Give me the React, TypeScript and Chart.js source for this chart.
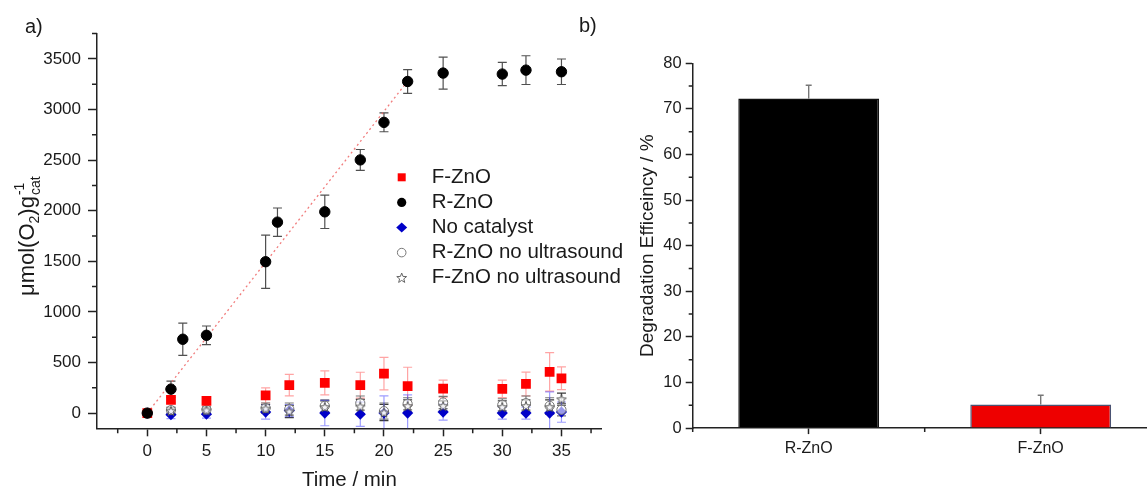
import React, { useEffect, useRef } from 'react';
import { Chart, registerables } from 'chart.js';

Chart.register(...registerables);

const FONT = '"Liberation Sans", Arial, Helvetica, sans-serif';

// ---------- Panel a) data ----------
const rznoTime = [0, 2, 3, 5, 10, 11, 15, 18, 20, 22, 25, 30, 32, 35];
const rznoO2 = [0, 237, 730, 769, 1496, 1887, 1989, 2502, 2873, 3277, 3360, 3350, 3389, 3373];
const rznoErr = [20, 80, 160, 92, 263, 140, 165, 103, 93, 117, 158, 115, 142, 126];

const sampleTime = [0, 2, 5, 10, 12, 15, 18, 20, 22, 25, 30, 32, 34, 35];
const fznoO2 = [0, 131, 121, 175, 276, 299, 276, 390, 266, 242, 240, 288, 408, 344];
const fznoErr = [0, 25, 25, 75, 106, 118, 128, 160, 187, 85, 87, 118, 190, 112];
const noCatO2 = [0, -15, -10, 10, 25, 0, -10, 0, 0, 10, 0, 0, 0, 10];
const noCatErr = [10, 40, 40, 70, 60, 125, 120, 170, 180, 80, 60, 60, 210, 100];
const rznoNoUsO2 = [0, 30, 35, 50, 40, 72, 99, 20, 92, 105, 82, 99, 72, 33];
const rznoNoUsErr = [10, 30, 30, 50, 60, 60, 70, 80, 60, 60, 60, 70, 80, 60];
const fznoNoUsO2 = [0, 22, 28, 45, 16, 60, 65, 6, 70, 70, 60, 70, 60, 138];
const fznoNoUsErr = [10, 30, 30, 40, 60, 60, 70, 80, 60, 50, 60, 60, 70, 60];

const fitTime = [0, 22];
const fitO2 = [0, 3280];

const xMajorTicks = [0, 5, 10, 15, 20, 25, 30, 35];
const xMinorTicks = [-2.5, 2.5, 7.5, 12.5, 17.5, 22.5, 27.5, 32.5, 37.5];
const yMajorTicks = [0, 500, 1000, 1500, 2000, 2500, 3000, 3500];
const yMinorTicks = [250, 750, 1250, 1750, 2250, 2750, 3250, 3750];

const legendNames = ['F-ZnO', 'R-ZnO', 'No catalyst', 'R-ZnO no ultrasound', 'F-ZnO no ultrasound'];

// ---------- Panel b) data ----------
const barCategories = ['R-ZnO', 'F-ZnO'];
const barValues = [72.3, 5.2];
const barErrors = [2.9, 2.0];
const barYTicks = [0, 10, 20, 30, 40, 50, 60, 70, 80];
const barYMinor = [5, 15, 25, 35, 45, 55, 65, 75];

const H = 489;
const LEFT_W = 650;
const RIGHT_X = 560;
const RIGHT_W = 610;

function drawStar(ctx: CanvasRenderingContext2D, x: number, y: number, R: number, r: number, fill: string, stroke: string, lw: number) {
  ctx.beginPath();
  for (let k = 0; k < 10; k++) {
    const ang = -Math.PI / 2 + (k * Math.PI) / 5;
    const rad = k % 2 === 0 ? R : r;
    const px = x + rad * Math.cos(ang);
    const py = y + rad * Math.sin(ang);
    if (k === 0) ctx.moveTo(px, py);
    else ctx.lineTo(px, py);
  }
  ctx.closePath();
  ctx.fillStyle = fill;
  ctx.fill();
  ctx.strokeStyle = stroke;
  ctx.lineWidth = lw;
  ctx.stroke();
}

function makeStarImage(R: number) {
  const c = document.createElement('canvas');
  const s = Math.ceil(R * 2 + 4);
  c.width = s;
  c.height = s;
  const ctx = c.getContext('2d')!;
  drawStar(ctx, s / 2, s / 2 + 0.5, R, R * 0.42, 'rgba(255,255,255,0.85)', '#555', 1);
  return c;
}

const toXY = (xs: number[], ys: number[]) => xs.map((x, i) => ({ x, y: ys[i] }));

const errorBarPlugin = {
  id: 'errorBars',
  beforeDatasetsDraw(chart: any) {
    const { ctx, chartArea } = chart;
    const ys = chart.scales.y;
    ctx.save();
    ctx.beginPath();
    ctx.rect(chartArea.left, chartArea.top - 20, chartArea.right - chartArea.left, chartArea.bottom - chartArea.top + 20);
    ctx.clip();
    chart.data.datasets.forEach((ds: any, i: number) => {
      if (!ds.errors) return;
      const meta = chart.getDatasetMeta(i);
      const cap = ds.capWidth || 9;
      meta.data.forEach((el: any, j: number) => {
        const e = ds.errors[j];
        if (!e) return;
        const raw = ds.data[j];
        const v = typeof raw === 'number' ? raw : raw.y;
        const x = el.x;
        const yt = ys.getPixelForValue(v + e);
        const yb = ds.upperOnly ? ys.getPixelForValue(v) : ys.getPixelForValue(v - e);
        ctx.strokeStyle = ds.errColor;
        ctx.lineWidth = ds.errWidth || 1.2;
        ctx.beginPath();
        ctx.moveTo(x, yt);
        ctx.lineTo(x, yb);
        ctx.moveTo(x - cap / 2, yt);
        ctx.lineTo(x + cap / 2, yt);
        if (!ds.upperOnly) {
          ctx.moveTo(x - cap / 2, yb);
          ctx.lineTo(x + cap / 2, yb);
        }
        ctx.stroke();
      });
    });
    ctx.restore();
  },
};

function drawMinorTicks(ctx: CanvasRenderingContext2D, chart: any, xs: number[], ysv: number[], len: number) {
  const { chartArea } = chart;
  ctx.save();
  ctx.strokeStyle = '#222';
  ctx.lineWidth = 1.5;
  ctx.beginPath();
  xs.forEach((v) => {
    const px = chart.scales.x.getPixelForValue(v);
    ctx.moveTo(px, chartArea.bottom);
    ctx.lineTo(px, chartArea.bottom + len);
  });
  ysv.forEach((v) => {
    const py = chart.scales.y.getPixelForValue(v);
    ctx.moveTo(chartArea.left, py);
    ctx.lineTo(chartArea.left - len, py);
  });
  ctx.stroke();
  ctx.restore();
}

const leftDecorPlugin = {
  id: 'leftDecor',
  afterDraw(chart: any) {
    const { ctx, chartArea } = chart;
    drawMinorTicks(ctx, chart, xMinorTicks, yMinorTicks, 5);
    ctx.save();
    ctx.fillStyle = '#1a1a1a';
    ctx.font = `20px ${FONT}`;
    ctx.textAlign = 'left';
    ctx.textBaseline = 'alphabetic';
    ctx.fillText('a)', 25, 33);
    ctx.textAlign = 'center';
    ctx.font = `20.5px ${FONT}`;
    ctx.fillText('Time / min', (chartArea.left + chartArea.right) / 2, 486);
    ctx.save();
    ctx.translate(34, 296);
    ctx.rotate(-Math.PI / 2);
    ctx.textAlign = 'left';
    let x = 0;
    const big = `22px ${FONT}`;
    const small = `14px ${FONT}`;
    ctx.font = big;
    ctx.fillText('\u03bcmol(O', x, 0);
    x += ctx.measureText('\u03bcmol(O').width;
    ctx.font = small;
    ctx.fillText('2', x, 5);
    x += ctx.measureText('2').width;
    ctx.font = big;
    ctx.fillText(')g', x, 0);
    x += ctx.measureText(')g').width;
    ctx.font = small;
    ctx.fillText('-1', x + 1, -10);
    ctx.fillText('cat', x + 1, 6);
    ctx.restore();
    const mx = 401.7;
    const tx = 431.7;
    const y0 = 177.3;
    const dy = 25.1;
    ctx.font = `20.5px ${FONT}`;
    ctx.textAlign = 'left';
    ctx.textBaseline = 'middle';
    legendNames.forEach((name, i) => {
      const y = y0 + i * dy;
      if (i === 0) {
        ctx.fillStyle = '#ff0000';
        ctx.fillRect(mx - 4, y - 4, 8, 8);
      } else if (i === 1) {
        ctx.fillStyle = '#000';
        ctx.beginPath();
        ctx.arc(mx, y, 4.6, 0, Math.PI * 2);
        ctx.fill();
      } else if (i === 2) {
        ctx.fillStyle = '#0000c8';
        ctx.beginPath();
        ctx.moveTo(mx - 5.5, y);
        ctx.lineTo(mx, y - 5);
        ctx.lineTo(mx + 5.5, y);
        ctx.lineTo(mx, y + 5);
        ctx.closePath();
        ctx.fill();
      } else if (i === 3) {
        ctx.strokeStyle = '#777';
        ctx.lineWidth = 1;
        ctx.beginPath();
        ctx.arc(mx, y, 4.3, 0, Math.PI * 2);
        ctx.stroke();
      } else {
        drawStar(ctx, mx, y + 0.5, 5.2, 2.2, '#fff', '#666', 1);
      }
      ctx.fillStyle = '#1a1a1a';
      ctx.fillText(name, tx, y);
    });
    ctx.restore();
  },
};

const rightDecorPlugin = {
  id: 'rightDecor',
  afterDraw(chart: any) {
    const { ctx, chartArea } = chart;
    const xs = chart.scales.x;
    const ys = chart.scales.y;
    ctx.save();
    ctx.strokeStyle = '#222';
    ctx.lineWidth = 1.5;
    ctx.beginPath();
    barYMinor.forEach((v) => {
      const py = ys.getPixelForValue(v);
      ctx.moveTo(chartArea.left, py);
      ctx.lineTo(chartArea.left - 4, py);
    });
    const p0 = xs.getPixelForValue(0);
    const p1 = xs.getPixelForValue(1);
    const half = (p1 - p0) / 2;
    [p0 - half, p0 + half, p1 + half].forEach((px) => {
      ctx.moveTo(px, chartArea.bottom);
      ctx.lineTo(px, chartArea.bottom + 4);
    });
    ctx.stroke();
    ctx.fillStyle = '#1a1a1a';
    ctx.font = `20px ${FONT}`;
    ctx.textAlign = 'left';
    ctx.textBaseline = 'alphabetic';
    ctx.fillText('b)', 19, 32);
    ctx.save();
    ctx.translate(93, (chartArea.top + chartArea.bottom) / 2);
    ctx.rotate(-Math.PI / 2);
    ctx.textAlign = 'center';
    ctx.font = `19px ${FONT}`;
    ctx.fillText('Degradation Efficeincy / %', 0, 0);
    ctx.restore();
    ctx.restore();
  },
};

const plainTick = (v: any) => String(v);

export default function App() {
  const leftRef = useRef<HTMLCanvasElement>(null);
  const rightRef = useRef<HTMLCanvasElement>(null);

  useEffect(() => {
    const starImg = makeStarImage(5);
    const axisCommon = {
      grid: { display: true, drawOnChartArea: false, drawTicks: true, tickColor: '#222', tickWidth: 1.5 },
      border: { display: true, color: '#222', width: 1.5 },
    };
    const left = new Chart(leftRef.current!, {
      type: 'scatter',
      data: {
        datasets: [
          {
            label: 'R-ZnO',
            data: toXY(rznoTime, rznoO2),
            errors: rznoErr,
            errColor: '#505050',
            pointStyle: 'circle',
            pointRadius: 5.2,
            backgroundColor: '#000',
            borderColor: '#000',
            order: 0,
          } as any,
          {
            label: 'F-ZnO',
            data: toXY(sampleTime, fznoO2),
            errors: fznoErr,
            errColor: 'rgba(255,90,90,0.55)',
            pointStyle: 'rect',
            pointRadius: 6.9,
            backgroundColor: '#ff0000',
            borderColor: '#ff0000',
            borderWidth: 0,
            order: 1,
          } as any,
          {
            label: 'F-ZnO no ultrasound',
            data: toXY(sampleTime, fznoNoUsO2),
            errors: fznoNoUsErr,
            errColor: '#3a3a3a',
            pointStyle: starImg,
            pointRadius: 5,
            order: 2,
          } as any,
          {
            label: 'R-ZnO no ultrasound',
            data: toXY(sampleTime, rznoNoUsO2),
            errors: rznoNoUsErr,
            errColor: '#777',
            pointStyle: 'circle',
            pointRadius: 4.6,
            backgroundColor: 'rgba(255,255,255,0.6)',
            borderColor: '#777',
            borderWidth: 1,
            order: 3,
          } as any,
          {
            label: 'No catalyst',
            data: toXY(sampleTime, noCatO2),
            errors: noCatErr,
            errColor: 'rgba(60,60,255,0.5)',
            pointStyle: 'rectRot',
            pointRadius: 5.6,
            backgroundColor: '#0000c8',
            borderColor: '#0000c8',
            borderWidth: 0,
            order: 4,
          } as any,
          {
            label: 'fit',
            data: toXY(fitTime, fitO2),
            showLine: true,
            borderColor: 'rgba(240,110,110,0.9)',
            borderWidth: 1.3,
            borderDash: [2, 3],
            pointRadius: 0,
            order: 5,
          } as any,
        ],
      },
      options: {
        animation: false,
        responsive: false,
        events: [],
        layout: { padding: { left: 0, top: 33.6, right: LEFT_W - 601.7, bottom: 0 } },
        plugins: { legend: { display: false }, tooltip: { enabled: false } },
        scales: {
          x: {
            type: 'linear',
            min: -4.25,
            max: 38.4,
            afterBuildTicks: (s: any) => {
              s.ticks = xMajorTicks.map((v) => ({ value: v }));
            },
            afterFit: (s: any) => {
              s.height = H - 428.3;
            },
            ...axisCommon,
            grid: { ...axisCommon.grid, tickLength: 8 },
            ticks: { autoSkip: false, maxRotation: 0, padding: 5, color: '#1a1a1a', font: { family: FONT, size: 17 }, callback: plainTick },
          },
          y: {
            type: 'linear',
            min: -150,
            max: 3750,
            afterBuildTicks: (s: any) => {
              s.ticks = yMajorTicks.map((v) => ({ value: v }));
            },
            afterFit: (s: any) => {
              s.width = 97;
            },
            ...axisCommon,
            grid: { ...axisCommon.grid, tickLength: 9 },
            ticks: { autoSkip: false, padding: 7, color: '#1a1a1a', font: { family: FONT, size: 17 }, callback: plainTick },
          },
        },
      } as any,
      plugins: [errorBarPlugin, leftDecorPlugin],
    });

    const right = new Chart(rightRef.current!, {
      type: 'bar',
      data: {
        labels: barCategories,
        datasets: [
          {
            data: barValues,
            errors: barErrors,
            errColor: '#777',
            upperOnly: true,
            capWidth: 6,
            errWidth: 1.4,
            backgroundColor: ['#000000', '#ee0000'],
            borderColor: ['#111111', '#4a5272'],
            borderWidth: 1.5,
            categoryPercentage: 1,
            barPercentage: 0.607,
          } as any,
        ],
      },
      options: {
        animation: false,
        responsive: false,
        events: [],
        layout: { padding: { left: 0, top: 63.3, right: RIGHT_W - 596.7, bottom: 0 } },
        plugins: { legend: { display: false }, tooltip: { enabled: false } },
        scales: {
          x: {
            type: 'category',
            offset: true,
            afterFit: (s: any) => {
              s.height = H - 428.1;
            },
            ...axisCommon,
            grid: { ...axisCommon.grid, offset: false, tickLength: 6 },
            ticks: { autoSkip: false, maxRotation: 0, padding: 5, color: '#1a1a1a', font: { family: FONT, size: 16 } },
          },
          y: {
            type: 'linear',
            min: 0,
            max: 80,
            afterBuildTicks: (s: any) => {
              s.ticks = barYTicks.map((v) => ({ value: v }));
            },
            afterFit: (s: any) => {
              s.width = 132.7;
            },
            ...axisCommon,
            grid: { ...axisCommon.grid, tickLength: 7 },
            ticks: { autoSkip: false, padding: 4, color: '#1a1a1a', font: { family: FONT, size: 16.5 }, callback: plainTick },
          },
        },
      } as any,
      plugins: [errorBarPlugin, rightDecorPlugin],
    });

    return () => {
      left.destroy();
      right.destroy();
    };
  }, []);

  return (
    <div style={{ position: 'absolute', left: 0, top: 0, width: 1147, height: H, overflow: 'hidden', background: '#fff' }}>
      <canvas ref={leftRef} width={LEFT_W} height={H} style={{ position: 'absolute', left: 0, top: 0 }} />
      <canvas ref={rightRef} width={RIGHT_W} height={H} style={{ position: 'absolute', left: RIGHT_X, top: 0 }} />
    </div>
  );
}
